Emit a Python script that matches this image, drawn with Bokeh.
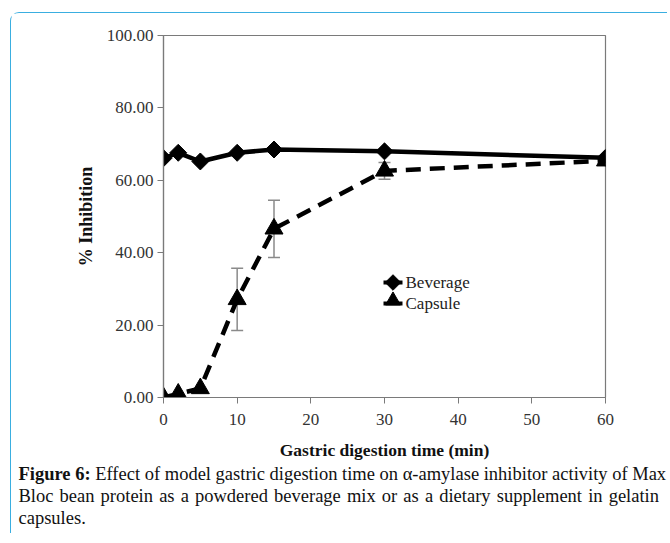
import math
from bokeh.plotting import figure
from bokeh.layouts import column
from bokeh.models import (NumeralTickFormatter, FixedTicker, Whisker,
                          ColumnDataSource, Div)
from bokeh.core.properties import value
from bokeh.embed import file_html
from bokeh.resources import INLINE

# ---- data ----
time_bev = [0, 2, 5, 10, 15, 30, 60]
beverage = [66.1, 67.6, 65.2, 67.6, 68.5, 68.0, 66.2]
time_cap = [0, 2, 5, 10, 15, 30, 60]
capsule = [0.0, 1.0, 2.5, 27.1, 46.6, 62.6, 65.4]
capsule_err = [0.0, 0.0, 0.0, 8.6, 7.9, 2.3, 0.0]
x_ticks = [0, 10, 20, 30, 40, 50, 60]
y_ticks = [0, 20, 40, 60, 80, 100]
series_names = ["Beverage", "Capsule"]
x_title = "Gastric digestion time (min)"
y_title = "% Inhibition"
caption_bold = "Figure 6:"
caption_lines = [
    " Effect of model gastric digestion time on \u03b1-amylase inhibitor activity of Max",
    "Bloc bean protein as a powdered beverage mix or as a dietary supplement in gelatin",
    "capsules.",
]

SERIF = "Liberation Serif"
OX, OY = 11.5, 13.5                 # figure origin on the page (inside blue border)
FL, FT, FR, FB = 163, 35, 605, 397  # frame edges in page pixels
W, H = 640, 450

p = figure(width=W, height=H, output_backend="svg", toolbar_location=None,
           x_range=(0, 60), y_range=(0, 100),
           min_border_left=int(round(FL - OX)), min_border_right=int(round(W - (FR - OX))),
           min_border_top=int(round(FT - OY)), min_border_bottom=int(round(H - (FB - OY))))
p.xgrid.visible = False
p.ygrid.visible = False
p.outline_line_color = "#7a7a7a"
p.outline_line_width = 1.2
p.background_fill_color = "white"
p.border_fill_color = "white"


def dx(px):
    return (px - FL) / (FR - FL) * 60.0


def dy(py):
    return (FB - py) / (FB - FT) * 100.0


for ax in (p.xaxis[0], p.yaxis[0]):
    ax.axis_line_color = "#7a7a7a"
    ax.axis_line_width = 1.2
    ax.major_tick_line_color = "#7a7a7a"
    ax.major_tick_in = 0
    ax.major_tick_out = 6
    ax.minor_tick_line_color = None
    ax.major_label_text_font = SERIF
    ax.major_label_text_font_size = "17px"
    ax.major_label_text_color = "#333333"
    ax.axis_label_text_font = SERIF
    ax.axis_label_text_font_style = "bold"
    ax.axis_label_text_color = "#111111"

p.xaxis[0].axis_label_text_font_size = "17.5px"
p.yaxis[0].axis_label_text_font_size = "18px"
p.xaxis[0].ticker = FixedTicker(ticks=x_ticks)
p.yaxis[0].ticker = FixedTicker(ticks=y_ticks)
p.yaxis[0].formatter = NumeralTickFormatter(format="0.00")
p.xaxis[0].major_label_standoff = 10
p.yaxis[0].major_label_standoff = 4
p.xaxis[0].axis_label = x_title
p.xaxis[0].axis_label_standoff = 12
p.yaxis[0].axis_label = y_title
p.yaxis[0].axis_label_standoff = 8

# error bars
src_err = ColumnDataSource(dict(
    x=[t for t, e in zip(time_cap, capsule_err) if e > 0],
    upper=[v + e for v, e in zip(capsule, capsule_err) if e > 0],
    lower=[v - e for v, e in zip(capsule, capsule_err) if e > 0],
))
w = Whisker(source=src_err, base="x", upper="upper", lower="lower",
            line_color="#8a8a8a", line_width=1.5)
for head in (w.upper_head, w.lower_head):
    head.size = 12
    head.line_color = "#8a8a8a"
    head.line_width = 1.5
p.add_layout(w)

# series
p.line(time_bev, beverage, line_color="black", line_width=4.5)
p.scatter(time_bev, beverage, marker="square", size=12, angle=math.pi / 4,
          fill_color="black", line_color="black")
p.line(time_cap, capsule, line_color="black", line_width=4.5, line_dash="15 9")
p.scatter(time_cap, capsule, marker="triangle", size=18,
          fill_color="black", line_color="black")

# legend (drawn by hand so the key diamond matches)
leg_rows = [282, 303]
p.segment(x0=[dx(383)] * 2, x1=[dx(402)] * 2, y0=[dy(r) for r in leg_rows],
          y1=[dy(r) for r in leg_rows], line_color="black", line_width=4)
p.scatter([dx(392.5)], [dy(leg_rows[0])], marker="square", size=11, angle=math.pi / 4,
          fill_color="black", line_color="black")
p.scatter([dx(392.5)], [dy(leg_rows[1]) + 0.8], marker="triangle", size=15,
          fill_color="black", line_color="black")
p.text(x=[dx(405)] * 2, y=[dy(r) for r in leg_rows], text=series_names,
       text_font=value(SERIF), text_font_size="17px", text_color="#222222",
       text_baseline="middle", text_align="left")

line_style = ("text-align:justify;text-align-last:justify;white-space:nowrap;"
              "height:22px;line-height:22px;")
cap_html = (
    f"<div style=\"font-family:'{SERIF}',serif;font-size:18.5px;color:#111111;"
    f"width:648px;padding-left:7.5px;\">"
    f"<div style=\"{line_style}\"><b>{caption_bold}</b>{caption_lines[0]}</div>"
    f"<div style=\"{line_style}\">{caption_lines[1]}</div>"
    f"<div style=\"height:22px;line-height:22px;\">{caption_lines[2]}</div>"
    f"</div>"
)
cap = Div(text=cap_html, width=656, height=70, margin=(0, 0, 0, 0))

outer = column(p, cap, margin=(12, 0, 0, 10), spacing=0,
               styles={"border-left": "1.5px solid #3aaee0",
                       "border-top": "1.5px solid #3aaee0",
                       "border-top-left-radius": "9px"})

open("out.html", "w").write(file_html(outer, INLINE))
